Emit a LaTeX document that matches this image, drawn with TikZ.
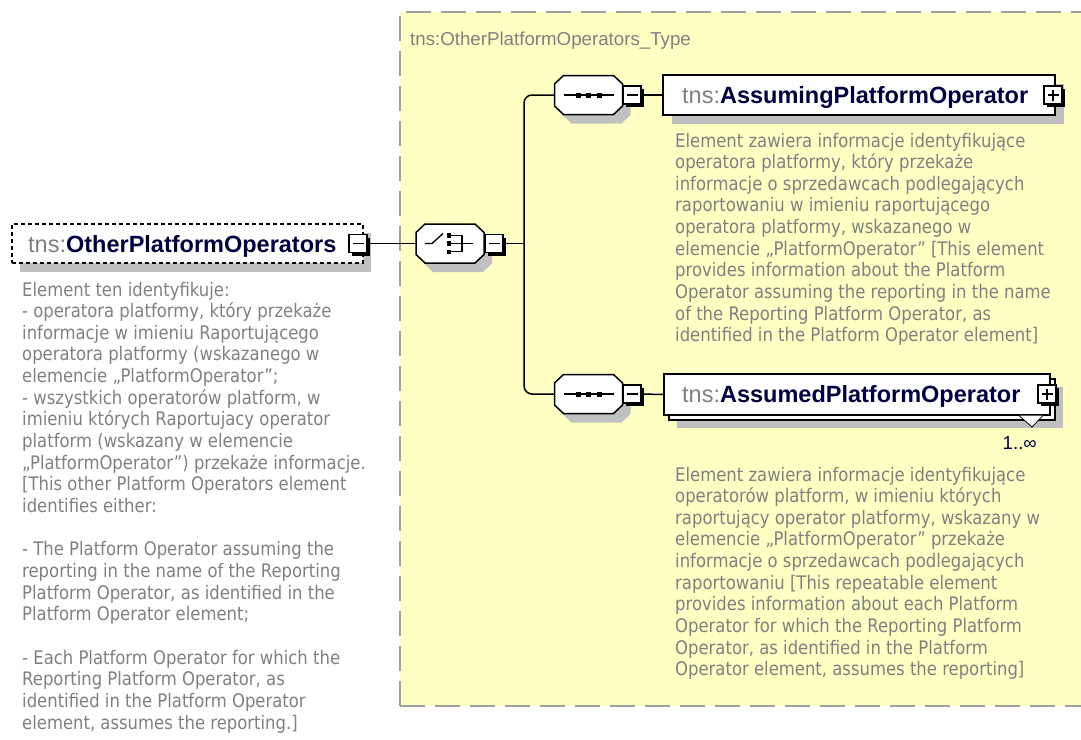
\documentclass[tikz,border=0pt]{standalone}
\usepackage{fontspec}
\setmainfont{Liberation Sans}
\newfontfamily\descfont{DejaVu Sans}[FakeStretch=0.88]
\definecolor{ybg}{RGB}{255,255,196}
\definecolor{ybd}{RGB}{160,160,160}
\definecolor{shd}{RGB}{192,192,192}
\definecolor{dtxt}{RGB}{128,128,128}
\definecolor{navy}{RGB}{0,0,64}
\tikzset{
  conn/.style={line width=1.5pt, black},
  ebox/.style={rectangle, draw=black, line width=1.5pt, fill=white, inner sep=0pt},
  eshadow/.style={preaction={fill=shd, transform canvas={xshift=9pt, yshift=-9pt}}},
  edash/.style={rectangle, draw=black, line width=1.5pt, dash pattern=on 4pt off 3pt, fill=white, inner sep=0pt,
    preaction={fill=shd, draw=none, transform canvas={xshift=8pt, yshift=-9pt}}},
  octn/.style={rectangle, inner sep=0pt, minimum width=68pt, minimum height=39pt},
  btn/.style={rectangle, draw=black, line width=1.5pt, fill=white, inner sep=0pt, minimum size=18pt,
    preaction={fill=black, draw=none, transform canvas={xshift=3pt, yshift=-3pt}}},
  minus/.style={btn, path picture={\draw[line width=1.4pt] ([xshift=3.5pt]path picture bounding box.west) -- ([xshift=-3.5pt]path picture bounding box.east);}},
  plus/.style={btn, path picture={\draw[line width=1.4pt] ([xshift=3.5pt]path picture bounding box.west) -- ([xshift=-3.5pt]path picture bounding box.east);
      \draw[line width=1.4pt] ([yshift=-3.5pt]path picture bounding box.north) -- ([yshift=3.5pt]path picture bounding box.south);}},
  ename/.style={inner sep=0pt, anchor=base west, font=\fontsize{23.5}{26}\selectfont},
  desc/.style={inner sep=0pt, anchor=base west, text=dtxt},
  ttl/.style={inner sep=0pt, anchor=base west, text=dtxt, font=\fontsize{18.7}{22}\selectfont},
}
\newcommand{\nm}[1]{\textcolor{dtxt}{tns:}\textcolor{navy}{\bfseries #1}}
\newcommand{\dsc}[2]{\parbox[t]{#1}{\raggedright\descfont\fontsize{18.7}{21.65}\selectfont #2}}
\newcommand{\octo}[1]{%
  \begin{scope}[shift={(#1.center)}]
    \fill[shd, shift={(8,9)}] (-34,-11) -- (-25,-19.5) -- (25,-19.5) -- (34,-11) -- (34,11) -- (25,19.5) -- (-25,19.5) -- (-34,11) -- cycle;
    \draw[line width=1.5pt, fill=white, line join=miter] (-34,-11) -- (-25,-19.5) -- (25,-19.5) -- (34,-11) -- (34,11) -- (25,19.5) -- (-25,19.5) -- (-34,11) -- cycle;
  \end{scope}}
\begin{document}
\begin{tikzpicture}[x=1pt,y=-1pt]
\useasboundingbox (0,0) rectangle (1081,739);
\clip (0,0) rectangle (1081,739);
% complex type area
\fill[ybg] (400,12) rectangle (1095,706);
\draw[ybd, line width=2pt, dash pattern=on 25pt off 10pt] (400,706) -- (400,12) -- (1095,12);
\draw[ybd, line width=2pt, dash pattern=on 25pt off 10pt] (400,706) -- (1095,706);
\node[ttl] (title) at (410,45.5) {tns:OtherPlatformOperators\_Type};

% root element
\node[edash, minimum width=351pt, minimum height=39pt] (root) at (187.5,243.5) {};
\node[ename] (rootname) at (28,252) {\nm{OtherPlatformOperators}};
\node[minus] (b0) at (358,243.5) {};
\node[desc] (d0) at (22,296) {\dsc{500pt}{Element ten identyfikuje:\\
- operatora platformy, który przekaże\\
informacje w imieniu Raportującego\\
operatora platformy (wskazanego w\\
elemencie „PlatformOperator”;\\
- wszystkich operatorów platform, w\\
imieniu których Raportujacy operator\\
platform (wskazany w elemencie\\
„PlatformOperator”) przekaże informacje.\\\relax
[This other Platform Operators element\\
identifies either:\\[21.65pt]
- The Platform Operator assuming the\\
reporting in the name of the Reporting\\
Platform Operator, as identified in the\\
Platform Operator element;\\[21.65pt]
- Each Platform Operator for which the\\
Reporting Platform Operator, as\\
identified in the Platform Operator\\
element, assumes the reporting.]}};

% choice compositor
\node[octn] (cmp) at (450,243.5) {};
\octo{cmp}
\begin{scope}[shift={(cmp.center)}, line width=1.3pt]
  \draw (-25,0) -- (-18,0) -- (-7,-10);
  \fill (-3.5,-10.5) rectangle (1,-6);
  \fill (-3.5,-2.25) rectangle (1,2.25);
  \fill (-3.5,6) rectangle (1,10.5);
  \draw (1,-8.25) -- (12,-8.25) -- (12,8.25) -- (1,8.25);
  \draw (1,0) -- (23,0);
\end{scope}
\node[minus] (b1) at (494,243.5) {};
\draw[conn] (b0.east) -- (cmp.west);

% sequence compositors
\coordinate (jt) at (524,95);
\coordinate (jb) at (524,394);
\draw[conn] (b1.east) -- (b1.east -| jt);
\node[octn] (s1) at (588.5,95) {};
\node[octn] (s2) at (588.5,394) {};
\octo{s1}
\octo{s2}
\foreach \s in {s1,s2}{
  \begin{scope}[shift={(\s.center)}]
    \draw[line width=1.3pt] (-25,0) -- (25,0);
    \fill (-13,-2.5) rectangle (-8,2.5);
    \fill (-2.5,-2.5) rectangle (2.5,2.5);
    \fill (8,-2.5) rectangle (13,2.5);
  \end{scope}
}
\draw[conn, rounded corners=8pt] (s1.west) -- (jt) -- (jb) -- (s2.west);
\node[minus] (b2) at (632,95) {};
\node[minus] (b3) at (632,394) {};

% AssumingPlatformOperator
\node[ebox, eshadow, minimum width=392pt, minimum height=40pt] (e1) at (859,95) {};
\node[ename] (e1name) at (682,103.5) {\nm{AssumingPlatformOperator}};
\node[plus] (p1) at (1053,95) {};
\draw[conn] (b2.east) -- (e1.west);
\node[desc] (d1) at (675,147) {\dsc{500pt}{Element zawiera informacje identyfikujące\\
operatora platformy, który przekaże\\
informacje o sprzedawcach podlegających\\
raportowaniu w imieniu raportującego\\
operatora platformy, wskazanego w\\
elemencie „PlatformOperator” [This element\\
provides information about the Platform\\
Operator assuming the reporting in the name\\
of the Reporting Platform Operator, as\\
identified in the Platform Operator element]}};

% AssumedPlatformOperator (multiple)
\fill[shd] (677,387) rectangle (1063,428);
\draw[fill=white, line width=1.5pt] (669,379) rectangle (1055,420);
\node[ebox, minimum width=386pt, minimum height=41pt] (e2) at (857,394.5) {};
\draw[fill=white, line width=0.8pt] (1019,415.5) -- (1032,427) -- (1043,415.5);
\node[ename] (e2name) at (682,402.5) {\nm{AssumedPlatformOperator}};
\node[plus] (p2) at (1047,394) {};
\draw[conn] (b3.east) -- (e2.west);
\node[inner sep=0pt, anchor=base east, text=navy, font=\fontsize{18.7}{22}\selectfont] (occ) at (1037,449.5) {1..∞};
\node[desc] (d2) at (675,481) {\dsc{500pt}{Element zawiera informacje identyfikujące\\
operatorów platform, w imieniu których\\
raportujący operator platformy, wskazany w\\
elemencie „PlatformOperator” przekaże\\
informacje o sprzedawcach podlegających\\
raportowaniu [This repeatable element\\
provides information about each Platform\\
Operator for which the Reporting Platform\\
Operator, as identified in the Platform\\
Operator element, assumes the reporting]}};
\end{tikzpicture}
\end{document}
